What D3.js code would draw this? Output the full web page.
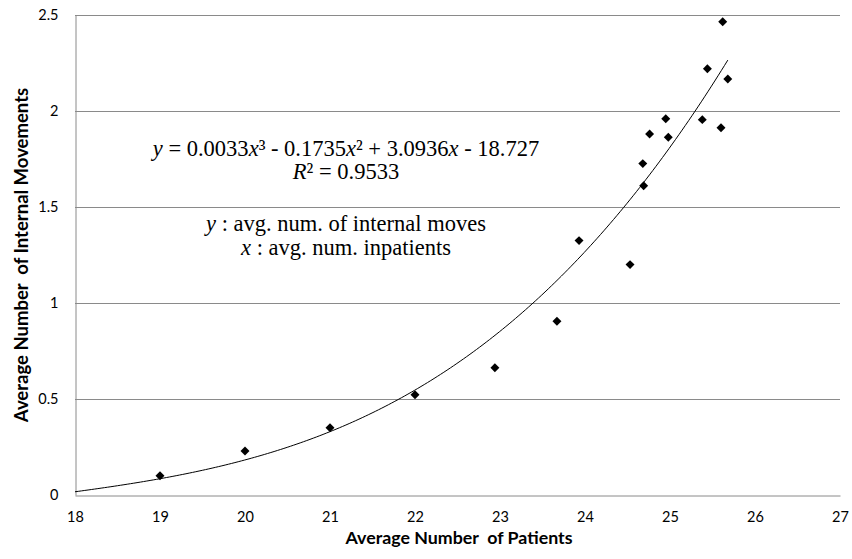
<!DOCTYPE html>
<html>
<head>
<meta charset="utf-8">
<script src="https://cdn.jsdelivr.net/npm/d3@7"></script>
<style>
  body { margin: 0; background: #ffffff; }
  svg { display: block; }
</style>
</head>
<body>
<svg id="chart" width="852" height="559"></svg>
<script>
// Observations: average number of inpatients vs. average number of internal moves
const patients = [19.0, 20.0, 21.0, 22.0, 22.94, 23.67, 23.93, 24.53, 24.69, 24.68, 24.76, 24.95, 24.98, 25.38, 25.44, 25.60, 25.62, 25.68];
const moves    = [0.100, 0.229, 0.350, 0.522, 0.663, 0.905, 1.325, 1.200, 1.611, 1.726, 1.880, 1.960, 1.863, 1.955, 2.220, 1.913, 2.465, 2.167];

const xTicks = [18, 19, 20, 21, 22, 23, 24, 25, 26, 27];
const yTicks = [0, 0.5, 1, 1.5, 2, 2.5];
const yTickLabels = ["0", "0.5", "1", "1.5", "2", "2.5"];

const xTitle = "Average Number  of Patients";
const yTitle = "Average Number  of Internal Movements";

// Polynomial trend line (cubic, highest power first) and its goodness of fit
const trendCoef = [0.0033047, -0.1735, 3.0936, -18.727];
const rSquared = 0.9533;
// Trend line runs from the axis minimum to the last observation
const trendFrom = 18;

const fmt = (v, d) => Math.abs(v).toFixed(d);
const sign = v => (v < 0 ? " - " : " + ");

// Annotation text, split into runs so the variables can be italic
const annotation = [
  [{t: "y", i: true}, {t: " = " + fmt(trendCoef[0], 4)}, {t: "x", i: true},
   {t: "³" + sign(trendCoef[1]) + fmt(trendCoef[1], 4)}, {t: "x", i: true},
   {t: "²" + sign(trendCoef[2]) + fmt(trendCoef[2], 4)}, {t: "x", i: true},
   {t: sign(trendCoef[3]) + fmt(trendCoef[3], 3)}],
  [{t: "R", i: true}, {t: "² = " + rSquared.toFixed(4)}],
  [{t: "y", i: true}, {t: " : avg. num. of internal moves"}],
  [{t: "x", i: true}, {t: " : avg. num. inpatients"}]
];

const svg = d3.select("#chart");
const plot = {left: 75, right: 840, top: 15, bottom: 495};

const x = d3.scaleLinear().domain([18, 27]).range([plot.left, plot.right]);
const y = d3.scaleLinear().domain([0, 2.5]).range([plot.bottom, plot.top]);

const gridColor = "#8a8a8a";
const uiFont = "Lato, 'Open Sans', sans-serif";

// Horizontal gridlines
svg.append("g")
  .selectAll("line")
  .data(yTicks.filter(d => d > 0))
  .join("line")
  .attr("x1", plot.left).attr("x2", plot.right)
  .attr("y1", d => Math.round(y(d)) + 0.5).attr("y2", d => Math.round(y(d)) + 0.5)
  .attr("stroke", gridColor).attr("stroke-width", 1);

// Axes: lines and tick labels, no tick marks
const xAxis = d3.axisBottom(x).tickValues(xTicks).tickSize(0).tickPadding(16).tickFormat(d3.format("d"));
const yAxis = d3.axisLeft(y).tickValues(yTicks).tickSize(0).tickPadding(17)
  .tickFormat((d, i) => yTickLabels[i]);

const gx = svg.append("g")
  .attr("transform", `translate(0,${Math.round(y(0)) + 0.5})`)
  .call(xAxis);
const gy = svg.append("g")
  .attr("transform", `translate(${plot.left + 0.5},0)`)
  .call(yAxis);

[gx, gy].forEach(g => {
  g.select(".domain").attr("stroke", gridColor).attr("stroke-width", 1);
  g.selectAll("text")
    .attr("font-family", uiFont)
    .attr("font-size", 14.5)
    .attr("fill", "#000");
});

// Cubic trend line
const poly = xv => trendCoef.reduce((acc, c) => acc * xv + c, 0);
const trendTo = d3.max(patients);
const trendXs = d3.range(0, 201).map(i => trendFrom + (trendTo - trendFrom) * i / 200);

svg.append("path")
  .datum(trendXs)
  .attr("fill", "none")
  .attr("stroke", "#000")
  .attr("stroke-width", 1)
  .attr("d", d3.line().x(d => x(d)).y(d => y(poly(d))));

// Diamond markers
const diamond = d3.symbol(d3.symbolSquare, 40);
svg.append("g")
  .selectAll("path")
  .data(patients.map((p, i) => [p, moves[i]]))
  .join("path")
  .attr("d", diamond)
  .attr("transform", d => `translate(${x(d[0])},${y(d[1])}) rotate(45)`)
  .attr("fill", "#000");

// Axis titles
svg.append("text")
  .attr("x", 459).attr("y", 544)
  .attr("text-anchor", "middle")
  .attr("font-family", uiFont).attr("font-weight", "bold").attr("font-size", 17.8)
  .style("white-space", "pre")
  .text(xTitle);

svg.append("text")
  .attr("transform", "translate(28,255) rotate(-90)")
  .attr("text-anchor", "middle")
  .attr("font-family", uiFont).attr("font-weight", "bold").attr("font-size", 18.5)
  .style("white-space", "pre")
  .text(yTitle);

// Equation annotation
const baselines = [156, 179, 231, 255];
const ann = svg.append("g")
  .attr("font-family", "'Liberation Serif', 'Times New Roman', serif")
  .attr("font-size", 22.5)
  .attr("fill", "#000");
annotation.forEach((runs, li) => {
  const t = ann.append("text")
    .attr("x", 346).attr("y", baselines[li])
    .attr("text-anchor", "middle")
    .style("white-space", "pre");
  runs.forEach(r => {
    t.append("tspan")
      .attr("font-style", r.i ? "italic" : null)
      .text(r.t);
  });
});
</script>
</body>
</html>
